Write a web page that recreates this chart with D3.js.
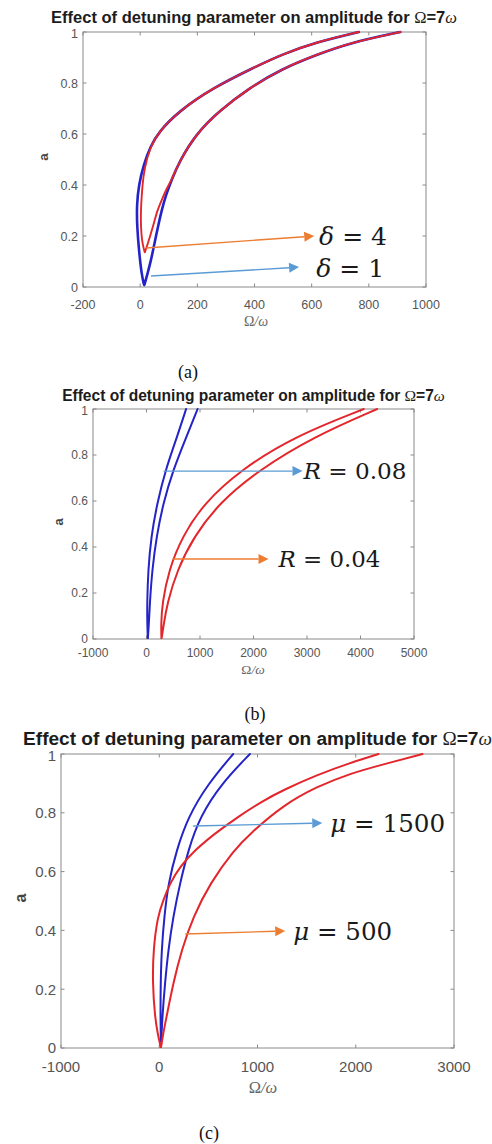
<!DOCTYPE html>
<html><head><meta charset="utf-8">
<script src="https://cdn.jsdelivr.net/npm/d3@7"></script>
<style>body{margin:0;background:#fff}svg{display:block}</style>
</head><body>
<svg id="c" width="492" height="1144"></svg>
<script>
// ---------------- DATA ----------------
const titleMain = "Effect of detuning parameter on amplitude for ";
const yTicks = [0, 0.2, 0.4, 0.6, 0.8, 1];
const xTicksA = [-200, 0, 200, 400, 600, 800, 1000];
const xTicksB = [-1000, 0, 1000, 2000, 3000, 4000, 5000];
const xTicksC = [-1000, 0, 1000, 2000, 3000];
const captions = ["(a)", "(b)", "(c)"];

// Panel (a): delta = 1 (blue) and delta = 4 (red); each a U-shaped curve [Omega/omega, a]
const aBlueLeft  = [[14,0.005],[5,0.05],[-4,0.14],[-11,0.24],[-12,0.32],[-5,0.40],[12,0.48],[35,0.55],[66,0.61],[136,0.69],[253,0.78],[400,0.862],[498,0.913],[615,0.96],[765,1.0]];
const aBlueRight = [[14,0.005],[25,0.05],[37,0.10],[50,0.17],[61,0.23],[75,0.30],[90,0.36],[110,0.42],[136,0.49],[195,0.60],[276,0.69],[381,0.78],[498,0.857],[615,0.91],[731,0.957],[910,1.0]];
const aRedLeft   = [[16,0.135],[8,0.17],[4,0.21],[2,0.26],[3,0.32],[8,0.40],[14,0.46],[35,0.55],[66,0.61],[136,0.69],[253,0.78],[400,0.862],[498,0.913],[615,0.96],[765,1.0]];
const aRedRight  = [[16,0.135],[24,0.16],[35,0.20],[48,0.25],[60,0.30],[75,0.34],[92,0.385],[110,0.42],[136,0.49],[195,0.60],[276,0.69],[381,0.78],[498,0.857],[615,0.91],[731,0.957],[910,1.0]];

// Panel (b): R = 0.08 (blue) and R = 0.04 (red)
const bBlueLeft  = [[25,0],[14,0.07],[12,0.155],[31,0.30],[87,0.445],[199,0.59],[355,0.735],[573,0.88],[740,1.0]];
const bBlueRight = [[25,0],[45,0.07],[62,0.155],[106,0.30],[187,0.445],[312,0.59],[498,0.735],[747,0.88],[955,1.0]];
const bRedLeft   = [[280,0],[272,0.06],[293,0.155],[417,0.30],[667,0.445],[1072,0.59],[1757,0.735],[2754,0.88],[4062,1.0]];
const bRedRight  = [[280,0],[320,0.06],[386,0.155],[573,0.30],[885,0.445],[1352,0.59],[2100,0.735],[3128,0.88],[4312,1.0]];

// Panel (c): mu = 1500 (blue) and mu = 500 (red)
const cBlueLeft  = [[17,0],[12,0.1],[14,0.22],[24,0.333],[51,0.447],[92,0.56],[176,0.673],[295,0.787],[499,0.90],[753,1.0]];
const cBlueRight = [[17,0],[30,0.1],[58,0.22],[92,0.333],[142,0.447],[211,0.56],[295,0.673],[414,0.787],[634,0.90],[923,1.0]];
const cRedLeft   = [[17,0],[-17,0.05],[-44,0.107],[-68,0.22],[-61,0.333],[-17,0.447],[41,0.503],[109,0.56],[211,0.617],[363,0.673],[567,0.73],[804,0.787],[1050,0.84],[1265,0.878],[1605,0.929],[1944,0.97],[2232,1.0]];
const cRedRight  = [[17,0],[40,0.05],[75,0.107],[142,0.22],[227,0.333],[346,0.447],[516,0.56],[760,0.673],[926,0.73],[1265,0.827],[1605,0.889],[1944,0.934],[2283,0.965],[2680,1.0]];

// Annotations: arrow from / to in data units, label anchor
const annA = [
  {from:[21,0.153], to:[609,0.2], color:"orange", sym:"δ", rest:" = 4", at:[626,0.2]},
  {from:[38,0.043], to:[556,0.078], color:"blue", sym:"δ", rest:" = 1", at:[616,0.075]}
];
const annB = [
  {from:[318,0.73], to:[2916,0.73], color:"blue", sym:"R", rest:" = 0.08", at:[2935,0.73]},
  {from:[486,0.348], to:[2280,0.348], color:"orange", sym:"R", rest:" = 0.04", at:[2467,0.348]}
];
const annC = [
  {from:[346,0.755], to:[1659,0.765], color:"blue", sym:"μ", rest:" = 1500", at:[1740,0.765]},
  {from:[265,0.388], to:[1282,0.398], color:"orange", sym:"μ", rest:" = 500", at:[1364,0.398]}
];

// ---------------- LAYOUT / STYLE ----------------
const COL = {blue:"#2323c8", red:"#e3262c", orange:"#ED7D31", aBlue:"#5B9BD5"};
const panels = [
  {box:[83,426,32,287], xd:[-200,1000], xt:xTicksA, title:{cx:254,y:17.5,w:406}, tick:12.5, xtY:304, xl:{x:256,y:326}, yl:{x:43,y:157}, cap:{x:188,y:372}, vr:2,
   curves:[[aBlueLeft,aBlueRight,"blue",2.6],[aRedLeft,aRedRight,"red",1.9]], ann:annA, annW:[68,68]},
  {box:[93,414,409,639], xd:[-1000,5000], xt:xTicksB, title:{cx:253.5,y:395.5,w:383}, tick:12, xtY:653, xl:{x:253,y:674}, yl:{x:58,y:522}, cap:{x:255,y:714}, vr:3,
   curves:[[bBlueLeft,bBlueRight,"blue",2],[bRedLeft,bRedRight,"red",2]], ann:annB, annW:[103,102]},
  {box:[61,454,754,1048], xd:[-1000,3000], xt:xTicksC, title:{cx:257.5,y:738,w:469}, tick:15, xtY:1067, xl:{x:263,y:1093}, yl:{x:20,y:898}, cap:{x:209,y:1133}, vr:3,
   curves:[[cBlueLeft,cBlueRight,"blue",2],[cRedLeft,cRedRight,"red",2]], ann:annC, annW:[115,99]}
];

const svg = d3.select("#c");
const defs = svg.append("defs");

function fit(t, w, base){
  const len = t.node().getComputedTextLength();
  const fs = base * w / len;
  t.style("font-size", fs + "px");
  return fs;
}

panels.forEach((p, i) => {
  const [x0,x1,y0,y1] = p.box;
  const x = d3.scaleLinear().domain(p.xd).range([x0,x1]);
  const y = d3.scaleLinear().domain([0,1]).range([y1,y0]);
  const g = svg.append("g");

  // title
  const t = g.append("text").attr("x", p.title.cx).attr("y", p.title.y)
    .attr("text-anchor","middle").attr("fill","#1c1c1c")
    .style("font-family","Arial, 'Liberation Sans', sans-serif").style("font-weight","bold").style("font-size","10px");
  t.append("tspan").text(titleMain);
  t.append("tspan").style("font-family","'Liberation Serif', serif").style("font-weight","normal").text("Ω");
  t.append("tspan").text("=7");
  t.append("tspan").style("font-family","'Liberation Serif', serif").style("font-weight","normal").style("font-style","italic").text("ω");
  const tfs = fit(t, p.title.w, 10);
  t.attr("y", p.title.y + tfs*0.36);

  // clip
  const cid = "clip"+i;
  defs.append("clipPath").attr("id",cid).append("rect").attr("x",x0).attr("y",y0-2).attr("width",x1-x0).attr("height",y1-y0+2);

  // frame
  g.append("rect").attr("x",x0).attr("y",y0).attr("width",x1-x0).attr("height",y1-y0)
    .attr("fill","none").attr("stroke","#8a8a8a").attr("stroke-width",1);

  // ticks (inward, mirrored) and labels
  const tl = 3.5;
  p.xt.forEach(v => {
    const px = x(v);
    g.append("line").attr("x1",px).attr("x2",px).attr("y1",y1).attr("y2",y1-tl).attr("stroke","#8a8a8a");
    g.append("line").attr("x1",px).attr("x2",px).attr("y1",y0).attr("y2",y0+tl).attr("stroke","#8a8a8a");
    g.append("text").attr("x",px).attr("y",p.xtY + p.tick*0.36).attr("text-anchor","middle")
      .attr("fill","#555").style("font-family","Arial, 'Liberation Sans', sans-serif").style("font-size",p.tick+"px").text(v);
  });
  yTicks.forEach(v => {
    const py = y(v);
    g.append("line").attr("x1",x0).attr("x2",x0+tl).attr("y1",py).attr("y2",py).attr("stroke","#8a8a8a");
    g.append("line").attr("x1",x1).attr("x2",x1-tl).attr("y1",py).attr("y2",py).attr("stroke","#8a8a8a");
    g.append("text").attr("x",x0-5).attr("y",py + p.tick*0.36 + (v===1 ? 1.5 : 0)).attr("text-anchor","end")
      .attr("fill","#555").style("font-family","Arial, 'Liberation Sans', sans-serif").style("font-size",p.tick+"px").text(v);
  });

  // axis labels
  g.append("text").attr("x",p.xl.x).attr("y",p.xl.y).attr("text-anchor","middle").attr("fill","#666")
    .style("font-family","'Liberation Serif', serif").style("font-size",(p.tick+1.5)+"px")
    .html('Ω<tspan font-style="italic">/ω</tspan>');
  g.append("text").attr("transform",`translate(${p.yl.x},${p.yl.y}) rotate(-90)`).attr("text-anchor","middle")
    .attr("dy","0.35em").attr("fill","#444").style("font-family","Arial, 'Liberation Sans', sans-serif")
    .style("font-weight","bold").style("font-size",(p.tick+1)+"px").text("a");

  // curves (vertex repeated so the B-spline reaches the tip)
  const line = d3.line().x(d => x(d[0])).y(d => y(d[1])).curve(d3.curveBasis);
  const cg = g.append("g").attr("clip-path",`url(#${cid})`);
  p.curves.forEach(([L,R,c,w]) => {
    const tip = Array(p.vr - 1).fill(L[0]);
    const pts = L.slice().reverse().concat(tip, R.slice(1));
    cg.append("path").attr("d", line(pts)).attr("fill","none").attr("stroke",COL[c])
      .attr("stroke-width",w).attr("stroke-linejoin","round").attr("stroke-linecap","round");
  });

  // annotations
  p.ann.forEach((a, k) => {
    const col = a.color === "orange" ? COL.orange : COL.aBlue;
    const fx = x(a.from[0]), fy = y(a.from[1]), tx = x(a.to[0]), ty = y(a.to[1]);
    const ang = Math.atan2(ty-fy, tx-fx), hl = 10, hw = 5;
    const bx = tx - hl*Math.cos(ang), by = ty - hl*Math.sin(ang);
    g.append("line").attr("x1",fx).attr("y1",fy).attr("x2",bx).attr("y2",by).attr("stroke",col).attr("stroke-width",1.4);
    g.append("path").attr("d",`M${tx},${ty}L${bx - hw*Math.sin(ang)},${by + hw*Math.cos(ang)}L${bx + hw*Math.sin(ang)},${by - hw*Math.cos(ang)}Z`).attr("fill",col);
    const lt = g.append("text").attr("x", x(a.at[0])).attr("y", y(a.at[1])).attr("fill","#1a1a1a")
      .style("font-family","'DejaVu Serif', serif").style("font-size","20px");
    lt.append("tspan").style("font-style","italic").text(a.sym);
    lt.append("tspan").attr("xml:space","preserve").style("white-space","pre").text(a.rest);
    const fs = fit(lt, p.annW[k], 20);
    lt.attr("y", y(a.at[1]) + fs*0.36);
  });

  // caption
  svg.append("text").attr("x",p.cap.x).attr("y",p.cap.y).attr("dy","0.35em").attr("text-anchor","middle")
    .attr("fill","#111").style("font-family","'Liberation Serif', serif").style("font-size","18px").text(captions[i]);
});
</script>
</body></html>
